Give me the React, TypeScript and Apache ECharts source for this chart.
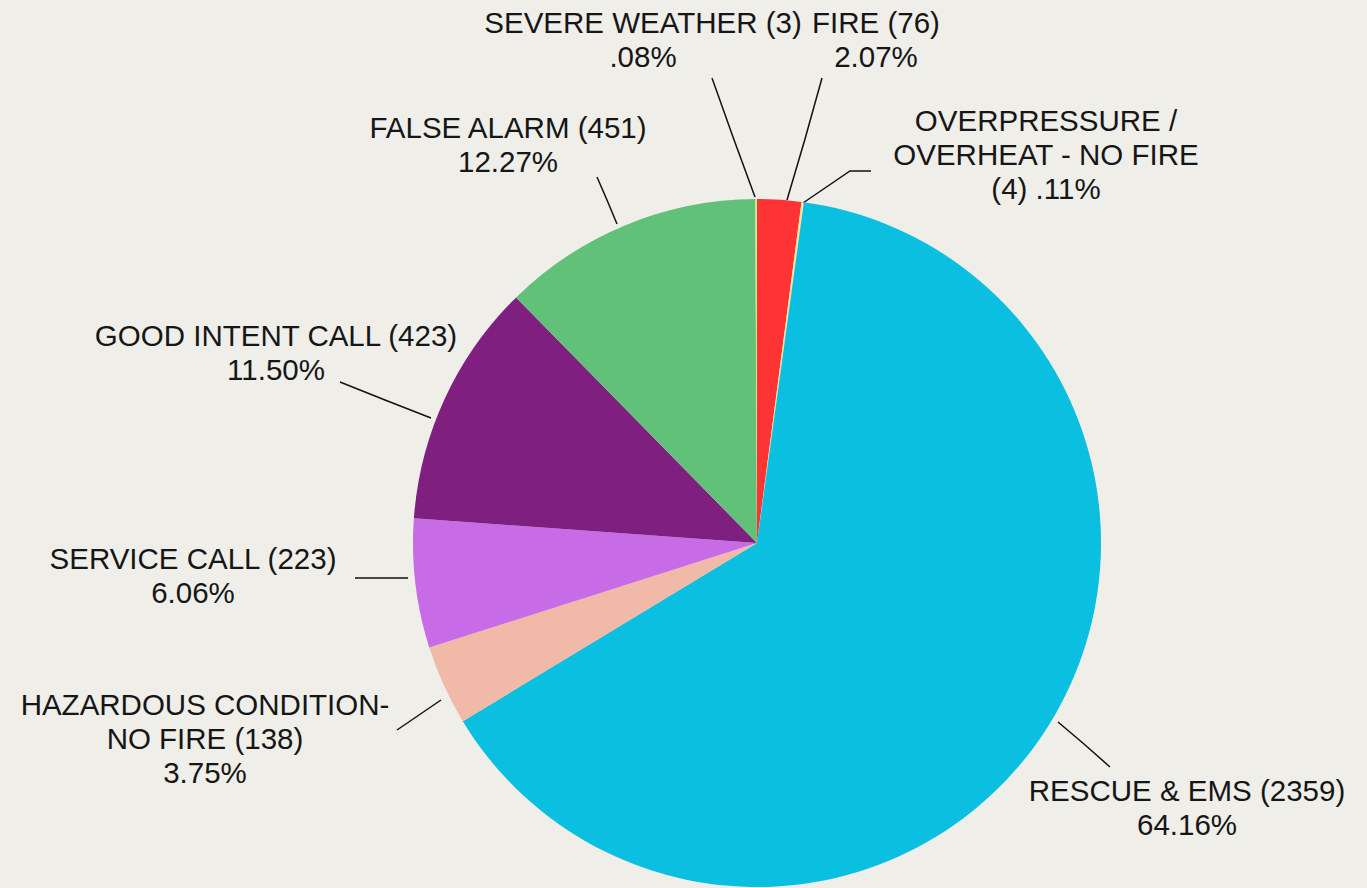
import React, { useEffect, useRef } from "react";
import * as echarts from "echarts";

const categories = [
  "FIRE",
  "OVERPRESSURE /\nOVERHEAT - NO FIRE",
  "RESCUE & EMS",
  "HAZARDOUS CONDITION-\nNO FIRE",
  "SERVICE CALL",
  "GOOD INTENT CALL",
  "FALSE ALARM",
  "SEVERE WEATHER",
];
const counts = [76, 4, 2359, 138, 223, 423, 451, 3];
const colors = ["#fe3333", "#f3e59b", "#0bbfe0", "#f1b9a8", "#c86be6", "#7f1f7f", "#61c178", "#c6ef88"];
// whether the count goes on its own line together with the percent
const countWithPct = [false, true, false, false, false, false, false, false];

// label layout (pixel positions of label centres and leader lines)
const labelPos: [number, number][] = [
  [876, 39],
  [1046, 154],
  [1187, 807],
  [205, 738],
  [193, 575],
  [276, 352],
  [508, 144],
  [643, 39],
];
const leaderLines: [number, number][][] = [
  [[787, 200], [805, 139], [822, 78]],
  [[803, 203], [850, 171], [871, 171]],
  [[1058, 722], [1084, 744], [1110, 767]],
  [[441, 700], [419, 715], [397, 730]],
  [[408, 578], [380, 578], [355, 578]],
  [[431, 418], [385, 400], [340, 382]],
  [[617, 224], [607, 200], [597, 177]],
  [[755, 197], [733, 137], [712, 78]],
];

const total = counts.reduce((a, b) => a + b, 0);
function pctText(v: number) {
  return (v / total * 100).toFixed(2).replace(/^0\./, ".") + "%";
}

export default function App() {
  const ref = useRef<HTMLDivElement>(null);
  useEffect(() => {
    document.body.style.margin = "0";
    const chart = echarts.init(ref.current!, undefined, { renderer: "svg" });
    chart.setOption({
      animation: false,
      backgroundColor: "#efeee9",
      series: [
        {
          type: "pie",
          center: [757, 543],
          radius: 344,
          startAngle: 90,
          clockwise: true,
          avoidLabelOverlap: false,
          data: categories.map((c, i) => ({
            name: c,
            value: counts[i],
            itemStyle: { color: colors[i] },
          })),
          label: {
            show: true,
            position: "outside",
            fontFamily: "Liberation Sans",
            fontSize: 29.5,
            lineHeight: 34,
            color: "#161616",
            align: "center",
            formatter: (p: any) => {
              const i = p.dataIndex;
              const v = counts[i];
              return countWithPct[i]
                ? `${categories[i]}\n(${v}) ${pctText(v)}`
                : `${categories[i]} (${v})\n${pctText(v)}`;
            },
          },
          labelLine: {
            show: true,
            lineStyle: { color: "#111", width: 1.5 },
          },
          labelLayout: (params: any) => {
            const i = params.dataIndex;
            return {
              x: labelPos[i][0],
              y: labelPos[i][1],
              align: "center",
              verticalAlign: "middle",
              labelLinePoints: leaderLines[i],
            };
          },
        },
      ],
    });
    return () => chart.dispose();
  }, []);
  return <div ref={ref} style={{ width: 1367, height: 888 }} />;
}
